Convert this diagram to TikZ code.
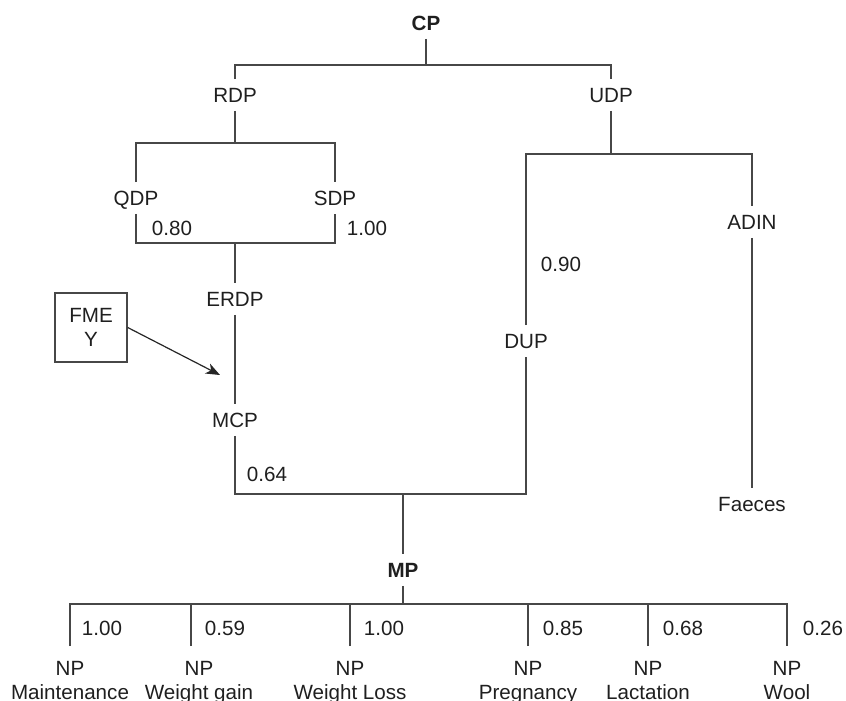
\documentclass[tikz,border=0pt]{standalone}
\usepackage{fontspec}
\setmainfont{Liberation Sans}
\usetikzlibrary{arrows.meta}

\tikzset{
  lbl/.style={inner sep=4pt, text height=7.4pt, text depth=0pt},
  val/.style={inner sep=1pt},
  npbox/.style={align=center, anchor=north, inner xsep=0pt, inner ysep=7.4pt},
  link/.style={draw=black!72, line width=0.7pt},
}

\begin{document}
\begin{tikzpicture}[x=0.5pt, y=-0.5pt,
    every node/.style={font=\fontsize{10.3}{12}\selectfont, text=black!88}]
                \useasboundingbox (0,0) rectangle (846,701);

                % Protein fractions
                \node[lbl, font=\fontsize{10.3}{12}\selectfont\bfseries] (cp) at (426,23) {CP};
                \node[lbl] (rdp) at (235,95) {RDP};
                \node[lbl] (udp) at (611,95) {UDP};
                \node[lbl] (qdp) at (136,198) {QDP};
                \node[lbl] (sdp) at (335,198) {SDP};
                \node[lbl] (erdp) at (235,299) {ERDP};
                \node[lbl] (mcp) at (235,420) {MCP};
                \node[lbl] (dup) at (526,341) {DUP};
                \node[lbl] (adin) at (752,222) {ADIN};
                \node[lbl] (faeces) at (752,504) {Faeces};
                \node[lbl, font=\fontsize{10.3}{12}\selectfont\bfseries] (mp) at (403,570) {MP};
                \node[draw=black!72, line width=0.7pt, align=center, inner sep=0pt,
                      minimum width=36pt, minimum height=34.5pt] (fme) at (91,327.5) {FME\\Y};

                % Net protein uses
                \node[npbox] (npmaint) at (70,646) {NP\\Maintenance};
                \node[npbox] (npgain) at (199,646) {NP\\Weight gain};
                \node[npbox] (nploss) at (350,646) {NP\\Weight Loss};
                \node[npbox] (nppreg) at (528,646) {NP\\Pregnancy};
                \node[npbox] (nplact) at (648,646) {NP\\Lactation};
                \node[npbox] (npwool) at (787,646) {NP\\Wool};

                % Junctions
                \coordinate (cpsplit) at (426,65);
                \coordinate (rdpsplit) at (235,143);
                \coordinate (rdpjoin) at (235,243);
                \coordinate (udpsplit) at (611,154);
                \coordinate (mpjoin) at (403,494);
                \coordinate (npsplit) at (403,604);
                \coordinate (gainfoot) at (191,646);
                \coordinate (fmetip) at (220,375);

                % Tree
                \draw[link] (cp) -- (cpsplit);
                \draw[link] (rdp) |- (cpsplit) -| (udp);
                \draw[link] (rdp) -- (rdpsplit);
                \draw[link] (qdp) |- (rdpsplit) -| (sdp);
                \draw[link] (qdp) |- (rdpjoin) -| (sdp);
                \draw[link] (rdpjoin) -- (erdp);
                \draw[link] (erdp) -- (mcp);
                \draw[link] (udp) -- (udpsplit);
                \draw[link] (dup) |- (udpsplit) -| (adin);
                \draw[link] (adin) -- (faeces);
                \draw[link] (mcp) |- (mpjoin) -| (dup);
                \draw[link] (mpjoin) -- (mp);
                \draw[link] (mp) -- (npsplit);
                \draw[link] (npmaint) |- (npsplit) -| (npwool);
                \foreach \n in {nploss, nppreg, nplact}
                    \draw[link] (\n) -- (\n |- npsplit);
                \draw[link] (gainfoot) -- (gainfoot |- npsplit);

                % FME arrow
                \draw[black!85, line width=0.6pt, -{Stealth[length=7pt, width=5.5pt, inset=2pt]}] (fme.east) -- (fmetip);

                % Efficiencies
                \node[val] (vqdp) at (172,228) {0.80};
                \node[val] (vsdp) at (367,228) {1.00};
                \node[val] (vdup) at (561,264) {0.90};
                \node[val] (vmcp) at (267,474) {0.64};
                \node[val] (vmaint) at (102,628) {1.00};
                \node[val] (vgain) at (225,628) {0.59};
                \node[val] (vloss) at (384,628) {1.00};
                \node[val] (vpreg) at (563,628) {0.85};
                \node[val] (vlact) at (683,628) {0.68};
                \node[val] (vwool) at (823,628) {0.26};
            \end{tikzpicture}
\end{document}
